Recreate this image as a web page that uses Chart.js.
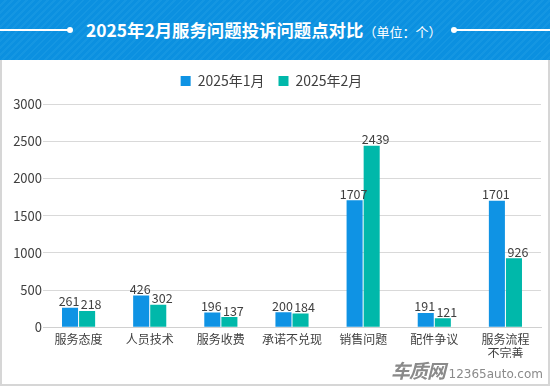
<!DOCTYPE html>
<html>
<head>
<meta charset="utf-8">
<script src="https://cdn.jsdelivr.net/npm/chart.js@4"></script>
<style>
  body { margin: 0; width: 550px; height: 386px; overflow: hidden; background: #fff;
         font-family: "Noto Sans CJK SC", "Noto Sans", sans-serif; }
  #head { position: absolute; left: 0; top: 0; width: 550px; height: 60px;
          background: repeating-linear-gradient(135deg, #0b90e0 0px, #0b90e0 3px, #1496e2 3px, #1496e2 5px); }
  #head .ln { position: absolute; top: 29px; height: 2px; background: #fff; }
  #head .dot { position: absolute; top: 27px; width: 6px; height: 6px; border-radius: 3px; background: #fff; }
  #title { position: absolute; left: 86px; top: 17px; color: #fff;
           font-size: 17.4px; font-weight: bold; line-height: 26px; white-space: nowrap; }
  #title span { font-size: 13px; font-weight: normal; }
  #panel { position: absolute; left: 0; top: 60px; width: 546px; height: 324px;
           border-left: 2px solid #d6d6d6; border-right: 2px solid #d6d6d6; border-bottom: 2px solid #d6d6d6; }
  #wm { position: absolute; right: 5px; bottom: 1px; color: #8a8a8a; white-space: nowrap; }
  #wm b { font-size: 19px; letter-spacing: -1px; font-style: italic; }
  #wm span { font-size: 12px; font-family: "DejaVu Sans", sans-serif; }
</style>
</head>
<body>
<div id="head">
  <div class="ln" style="left:0;width:69px"></div>
  <div class="dot" style="left:67px"></div>
  <div class="dot" style="left:451px"></div>
  <div class="ln" style="left:455px;width:95px"></div>
  <div id="title">2025年2月服务问题投诉问题点对比<span>（单位：个）</span></div>
</div>
<div id="panel">
  <canvas id="myCanvas" width="546" height="324"></canvas>
  <div id="wm"><b>车质网</b> <span>12365auto.com</span></div>
</div>
<script>
const categories = ['服务态度', '人员技术', '服务收费', '承诺不兑现', '销售问题', '配件争议', ['服务流程', '不完善']];
const jan = [261, 426, 196, 200, 1707, 191, 1701];
const feb = [218, 302, 137, 184, 2439, 121, 926];
const yTicks = [0, 500, 1000, 1500, 2000, 2500, 3000];

const FONT = '"Noto Sans CJK SC", sans-serif';

// draws the numbers above each bar (feb labels nudged right like the original)
const valueLabels = {
    id: 'valueLabels',
    afterDatasetsDraw(chart) {
        const ctx = chart.ctx;
        ctx.save();
        ctx.font = '12.5px ' + FONT;
        ctx.fillStyle = '#404040';
        ctx.textAlign = 'center';
        ctx.textBaseline = 'bottom';
        chart.data.datasets.forEach((ds, i) => {
            const dx = i === 0 ? -1 : 4;
            chart.getDatasetMeta(i).data.forEach((bar, j) => {
                ctx.fillText(ds.data[j], bar.x + dx, bar.y);
            });
        });
        ctx.restore();
    }
};

// extra room under the legend
const legendGap = {
    id: 'legendGap',
    beforeInit(chart) {
        const fit = chart.legend.fit;
        chart.legend.fit = function () {
            fit.bind(chart.legend)();
            this.height += 6;
        };
    }
};

document.addEventListener('DOMContentLoaded', () => {
    const ctx = document.getElementById('myCanvas').getContext('2d');
    new Chart(ctx, {
        type: 'bar',
        data: {
            labels: categories,
            datasets: [
                { label: '2025年1月', data: jan, backgroundColor: '#0f93e4', barPercentage: 0.94, categoryPercentage: 0.48 },
                { label: '2025年2月', data: feb, backgroundColor: '#00b8aa', barPercentage: 0.94, categoryPercentage: 0.48 }
            ]
        },
        options: {
            responsive: false,
            animation: false,
            layout: { padding: { left: 0, right: 7, top: 0, bottom: 26 } },
            plugins: {
                legend: {
                    position: 'top',
                    labels: {
                        boxWidth: 10, boxHeight: 10, padding: 14,
                        color: '#404040',
                        font: { size: 14, family: FONT }
                    }
                },
                tooltip: { enabled: false }
            },
            scales: {
                x: {
                    grid: { display: false },
                    border: { color: '#d0d0d0' },
                    ticks: { color: '#404040', font: { size: 12, family: FONT, lineHeight: 1.2 }, maxRotation: 0, padding: -3 }
                },
                y: {
                    min: 0, max: 3000,
                    afterBuildTicks: (axis) => { axis.ticks = yTicks.map(v => ({ value: v })); },
                    afterFit: (axis) => { axis.width = 41; },
                    grid: { color: '#d9d9d9', drawTicks: false },
                    border: { display: false },
                    ticks: { color: '#404040', font: { size: 13, family: FONT }, padding: 1, callback: (v) => String(v) }
                }
            }
        },
        plugins: [valueLabels, legendGap]
    });
});
</script>
</body>
</html>
